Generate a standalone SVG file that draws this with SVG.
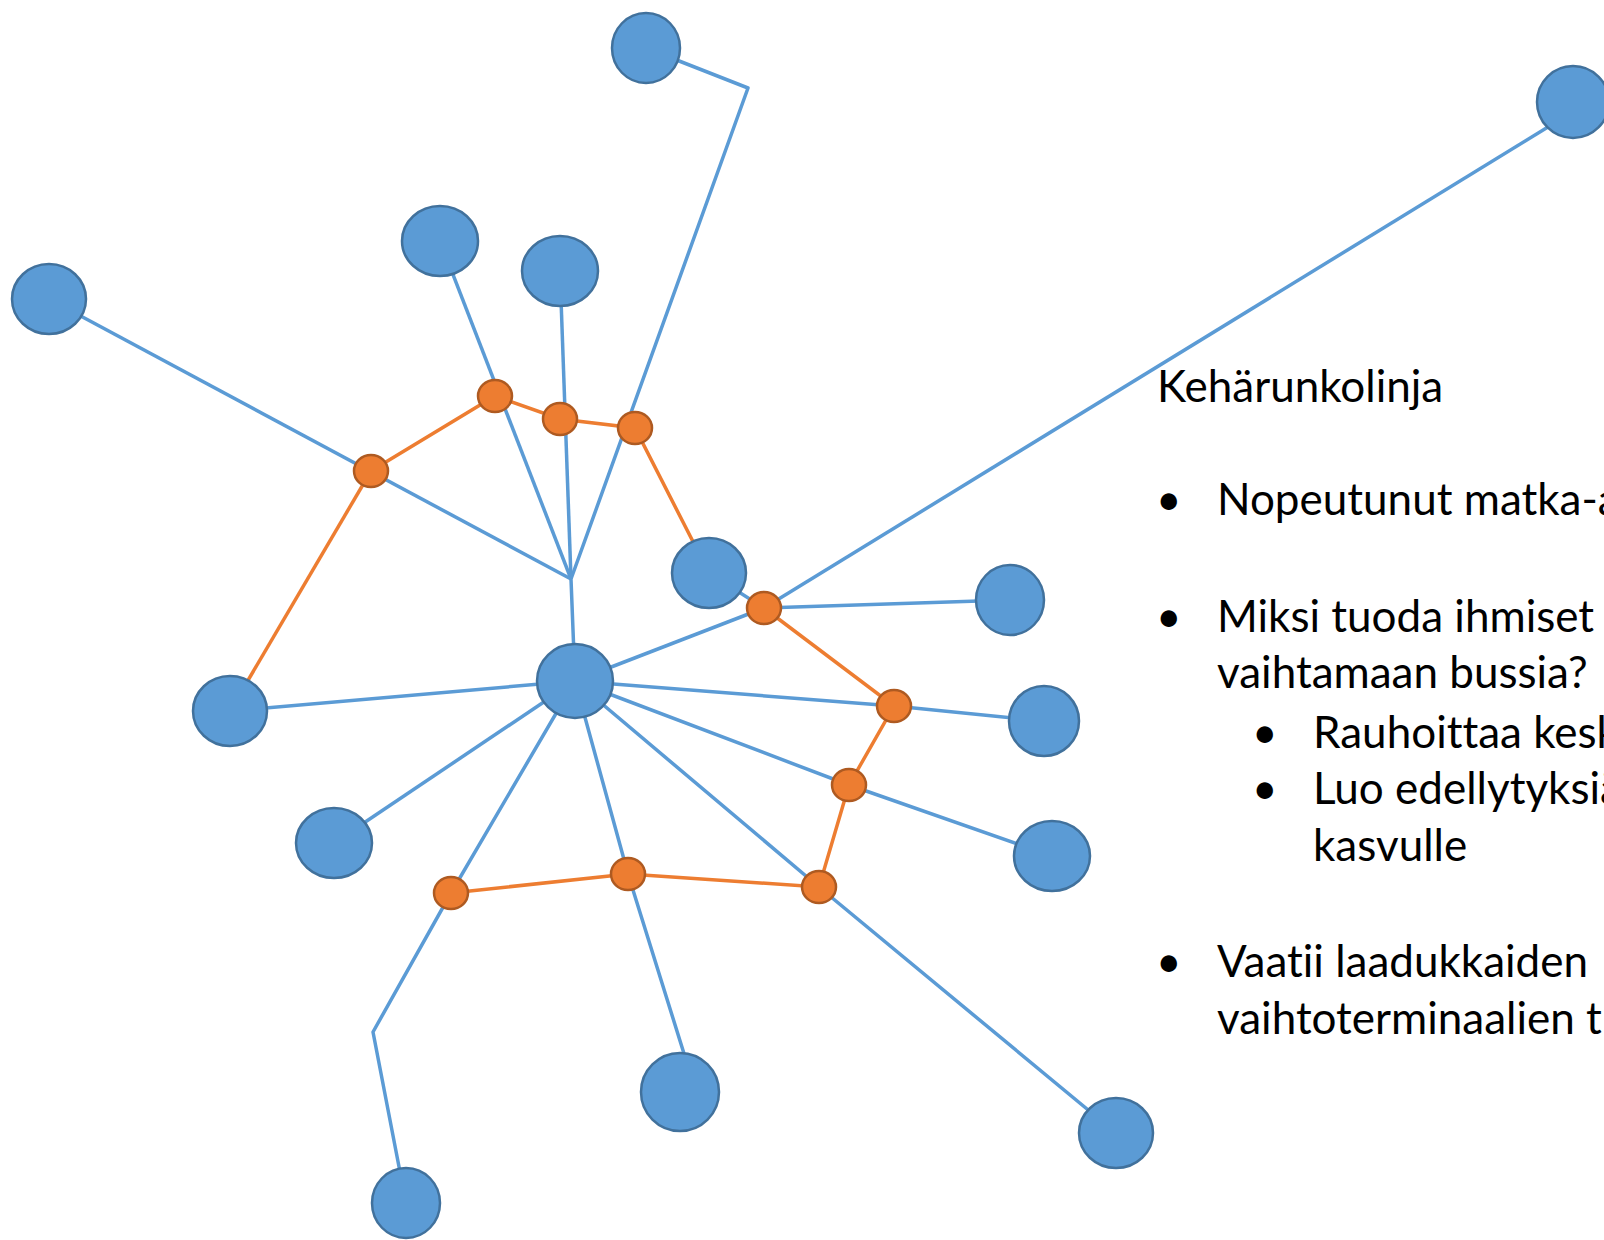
<svg xmlns="http://www.w3.org/2000/svg" width="1604" height="1240" viewBox="0 0 1604 1240">
<style>
.b{stroke:#5B9BD5;stroke-width:3.5;fill:none;stroke-linejoin:round}
.o{stroke:#ED7D31;stroke-width:3.5;fill:none}
.bn{fill:#5B9BD5;stroke:#41719C;stroke-width:2.5}
.on{fill:#ED7D31;stroke:#AE5A21;stroke-width:2.5}
.t{font-family:Lato,"Liberation Sans",sans-serif;font-size:44px;fill:#000;font-variant-ligatures:none}
</style>
<rect width="1604" height="1240" fill="#fff"/>
<g id="connectors">
<polyline class="b" points="646,48 748,88 571,579 575,681"/>
<line class="b" x1="440" y1="241" x2="571" y2="579"/>
<line class="b" x1="560" y1="271" x2="571" y2="579"/>
<line class="b" x1="49" y1="299" x2="571" y2="579"/>
<line class="b" x1="575" y1="681" x2="764" y2="608"/>
<line class="b" x1="764" y1="608" x2="1548" y2="127"/>
<line class="b" x1="764" y1="608" x2="1010" y2="600"/>
<line class="b" x1="709" y1="573" x2="764" y2="608"/>
<line class="b" x1="575" y1="681" x2="230" y2="711"/>
<polyline class="b" points="575,681 894,706 1044,721"/>
<polyline class="b" points="575,681 849,785 1052,856"/>
<polyline class="b" points="575,681 819,887 1116,1133"/>
<polyline class="b" points="575,681 628,874 686,1060"/>
<polyline class="b" points="575,681 451,893 373,1032 406,1203"/>
<line class="b" x1="575" y1="681" x2="334" y2="843"/>
<line class="o" x1="371" y1="471" x2="230" y2="711"/>
<polyline class="o" points="371,471 495,396 560,419 635,428 709,573"/>
<polyline class="o" points="764,608 894,706 849,785 819,887 628,874 451,893"/>
</g>
<g id="n1"><ellipse class="bn" cx="646" cy="48" rx="34" ry="35"/></g>
<g id="n2"><ellipse class="bn" cx="1573" cy="102" rx="36" ry="36"/></g>
<g id="n3"><ellipse class="bn" cx="440" cy="241" rx="38" ry="35"/></g>
<g id="n4"><ellipse class="bn" cx="560" cy="271" rx="38" ry="35"/></g>
<g id="n5"><ellipse class="bn" cx="49" cy="299" rx="37" ry="35"/></g>
<g id="n6"><ellipse class="bn" cx="709" cy="573" rx="37" ry="35"/></g>
<g id="n7"><ellipse class="bn" cx="1010" cy="600" rx="34" ry="35"/></g>
<g id="center"><ellipse class="bn" cx="575" cy="681" rx="38" ry="37"/></g>
<g id="n8"><ellipse class="bn" cx="230" cy="711" rx="37" ry="35"/></g>
<g id="n9"><ellipse class="bn" cx="1044" cy="721" rx="35" ry="35"/></g>
<g id="n10"><ellipse class="bn" cx="334" cy="843" rx="38" ry="35"/></g>
<g id="n11"><ellipse class="bn" cx="1052" cy="856" rx="38" ry="35"/></g>
<g id="n12"><ellipse class="bn" cx="680" cy="1092" rx="39" ry="39"/></g>
<g id="n13"><ellipse class="bn" cx="1116" cy="1133" rx="37" ry="35"/></g>
<g id="n14"><ellipse class="bn" cx="406" cy="1203" rx="34" ry="35"/></g>
<g id="o1"><ellipse class="on" cx="495" cy="396" rx="17" ry="16"/></g>
<g id="o2"><ellipse class="on" cx="560" cy="419" rx="17" ry="16"/></g>
<g id="o3"><ellipse class="on" cx="635" cy="428" rx="17" ry="16"/></g>
<g id="o4"><ellipse class="on" cx="371" cy="471" rx="17" ry="16"/></g>
<g id="o5"><ellipse class="on" cx="764" cy="608" rx="17" ry="16"/></g>
<g id="o6"><ellipse class="on" cx="894" cy="706" rx="17" ry="16"/></g>
<g id="o7"><ellipse class="on" cx="849" cy="785" rx="17" ry="16"/></g>
<g id="o8"><ellipse class="on" cx="628" cy="874" rx="17" ry="16"/></g>
<g id="o9"><ellipse class="on" cx="451" cy="893" rx="17" ry="16"/></g>
<g id="o10"><ellipse class="on" cx="819" cy="887" rx="17" ry="16"/></g>
<g id="text" class="t">
<text x="1157" y="402">Kehärunkolinja</text>
<text x="1156" y="515">•</text>
<text x="1217" y="515">Nopeutunut matka-a</text>
<text x="1156" y="632">•</text>
<text x="1217" y="632">Miksi tuoda ihmiset</text>
<text x="1217" y="688">vaihtamaan bussia?</text>
<text x="1252" y="748">•</text>
<text x="1313" y="748">Rauhoittaa kesk</text>
<text x="1252" y="804">•</text>
<text x="1313" y="804">Luo edellytyksiä</text>
<text x="1313" y="861">kasvulle</text>
<text x="1156" y="977">•</text>
<text x="1217" y="977">Vaatii laadukkaiden</text>
<text x="1217" y="1034">vaihtoterminaalien t</text>
</g>
</svg>
